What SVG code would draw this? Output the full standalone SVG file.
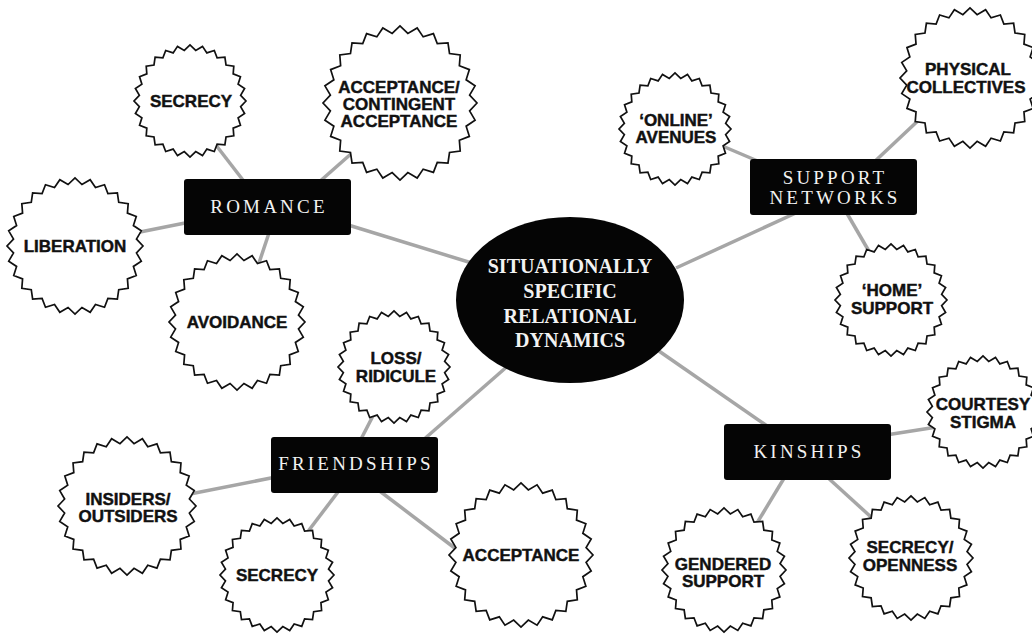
<svg xmlns="http://www.w3.org/2000/svg" xmlns:xlink="http://www.w3.org/1999/xlink" width="1032" height="634" viewBox="0 0 1032 634">
<style>
.bg{fill:#fff}
.conn line{stroke:#a6a6a6;stroke-width:3.5;stroke-linecap:butt}
.burst{fill:#fff;stroke:#111;stroke-width:1.7;stroke-linejoin:miter}
.lbl{font-family:"Liberation Sans",Arial,sans-serif;font-weight:bold;font-size:17px;fill:#111;stroke:#111;stroke-width:0.45px;text-anchor:middle}
.box{fill:#050505}
.btxt{font-family:"Liberation Serif","Times New Roman",serif;font-size:19px;fill:#f2f2f2;text-anchor:middle;letter-spacing:3.2px}
.ctxt{font-family:"Liberation Serif","Times New Roman",serif;font-weight:bold;font-size:20px;fill:#f2f2f2;text-anchor:middle}
</style>
<defs>
<polygon id="b" class="burst" vector-effect="non-scaling-stroke" points="1,0 .904,.102 .975,.223 .859,.301 .901,.434 .771,.484 .782,.623 .643,.643 .623,.782 .484,.771 .434,.901 .301,.859 .223,.975 .102,.904 0,1 -.102,.904 -.223,.975 -.301,.859 -.434,.901 -.484,.771 -.623,.782 -.643,.643 -.782,.623 -.771,.484 -.901,.434 -.859,.301 -.975,.223 -.904,.102 -1,0 -.904,-.102 -.975,-.223 -.859,-.301 -.901,-.434 -.771,-.484 -.782,-.623 -.643,-.643 -.623,-.782 -.484,-.771 -.434,-.901 -.301,-.859 -.223,-.975 -.102,-.904 0,-1 .102,-.904 .223,-.975 .301,-.859 .434,-.901 .484,-.771 .623,-.782 .643,-.643 .782,-.623 .771,-.484 .901,-.434 .859,-.301 .975,-.223 .904,-.102"/>
</defs>
<rect class="bg" width="1032" height="634"/>
<g id="connectors" class="conn">
<line x1="212" y1="140" x2="246" y2="184"/>
<line x1="352" y1="153" x2="318" y2="183"/>
<line x1="135" y1="233" x2="190" y2="222"/>
<line x1="270" y1="230" x2="258" y2="266"/>
<line x1="345" y1="224" x2="475" y2="264"/>
<line x1="720" y1="145" x2="760" y2="162"/>
<line x1="872" y1="164" x2="922" y2="117"/>
<line x1="798" y1="212" x2="676" y2="268"/>
<line x1="845" y1="210" x2="870" y2="253"/>
<line x1="656" y1="349" x2="770" y2="428"/>
<line x1="886" y1="435" x2="937" y2="427"/>
<line x1="786" y1="475" x2="754" y2="528"/>
<line x1="826" y1="476" x2="871" y2="517"/>
<line x1="510" y1="364" x2="422" y2="441"/>
<line x1="375" y1="412" x2="360" y2="441"/>
<line x1="190" y1="494" x2="276" y2="477"/>
<line x1="341" y1="488" x2="303" y2="538"/>
<line x1="377" y1="489" x2="456" y2="549"/>
</g>
<g id="center">
<ellipse cx="570" cy="300" rx="114" ry="83" fill="#050505"/>
<text class="ctxt" x="570" y="273">SITUATIONALLY</text>
<text class="ctxt" x="570" y="298">SPECIFIC</text>
<text class="ctxt" x="570" y="323">RELATIONAL</text>
<text class="ctxt" x="570" y="347">DYNAMICS</text>
</g>
<g id="romance">
<rect class="box" x="184" y="179" width="167" height="56" rx="3"/>
<text class="btxt" x="269" y="213">ROMANCE</text>
</g>
<g id="support-networks">
<rect class="box" x="750" y="159" width="167" height="56" rx="3"/>
<text class="btxt" x="835" y="184">SUPPORT</text>
<text class="btxt" x="835" y="204">NETWORKS</text>
</g>
<g id="friendships">
<rect class="box" x="271" y="437" width="167" height="56" rx="3"/>
<text class="btxt" x="356" y="470">FRIENDSHIPS</text>
</g>
<g id="kinships">
<rect class="box" x="724" y="424" width="167" height="56" rx="3"/>
<text class="btxt" x="809" y="458">KINSHIPS</text>
</g>
<g id="romance-secrecy">
<use xlink:href="#b" href="#b" transform="translate(190 101) scale(56)"/>
<text class="lbl" x="191" y="107">SECRECY</text>
</g>
<g id="romance-acceptance">
<use xlink:href="#b" href="#b" transform="translate(400 103) scale(77)"/>
<text class="lbl" x="399" y="93">ACCEPTANCE/</text>
<text class="lbl" x="399" y="110">CONTINGENT</text>
<text class="lbl" x="399" y="127">ACCEPTANCE</text>
</g>
<g id="romance-liberation">
<use xlink:href="#b" href="#b" transform="translate(75 246) scale(68)"/>
<text class="lbl" x="75" y="252">LIBERATION</text>
</g>
<g id="romance-avoidance">
<use xlink:href="#b" href="#b" transform="translate(237 322) scale(68)"/>
<text class="lbl" x="237" y="328">AVOIDANCE</text>
</g>
<g id="online-avenues">
<use xlink:href="#b" href="#b" transform="translate(675 129) scale(56)"/>
<text class="lbl" x="676" y="126">‘ONLINE’</text>
<text class="lbl" x="676" y="143">AVENUES</text>
</g>
<g id="physical-collectives">
<use xlink:href="#b" href="#b" transform="translate(970 78) scale(70)"/>
<text class="lbl" x="968" y="75">PHYSICAL</text>
<text class="lbl" x="966" y="93">COLLECTIVES</text>
</g>
<g id="home-support">
<use xlink:href="#b" href="#b" transform="translate(891 300) scale(56)"/>
<text class="lbl" x="892" y="296">‘HOME’</text>
<text class="lbl" x="892" y="314">SUPPORT</text>
</g>
<g id="courtesy-stigma">
<use xlink:href="#b" href="#b" transform="translate(983 412) scale(56)"/>
<text class="lbl" x="983" y="410">COURTESY</text>
<text class="lbl" x="983" y="428">STIGMA</text>
</g>
<g id="gendered-support">
<use xlink:href="#b" href="#b" transform="translate(724 570) scale(62)"/>
<text class="lbl" x="723" y="570">GENDERED</text>
<text class="lbl" x="723" y="587">SUPPORT</text>
</g>
<g id="secrecy-openness">
<use xlink:href="#b" href="#b" transform="translate(911 558) scale(62)"/>
<text class="lbl" x="910" y="553">SECRECY/</text>
<text class="lbl" x="910" y="571">OPENNESS</text>
</g>
<g id="loss-ridicule">
<use xlink:href="#b" href="#b" transform="translate(394 367) scale(56)"/>
<text class="lbl" x="396" y="364">LOSS/</text>
<text class="lbl" x="396" y="382">RIDICULE</text>
</g>
<g id="insiders-outsiders">
<use xlink:href="#b" href="#b" transform="translate(127 506) scale(69)"/>
<text class="lbl" x="128" y="505">INSIDERS/</text>
<text class="lbl" x="128" y="522">OUTSIDERS</text>
</g>
<g id="friendships-secrecy">
<use xlink:href="#b" href="#b" transform="translate(277 575) scale(57)"/>
<text class="lbl" x="277" y="581">SECRECY</text>
</g>
<g id="friendships-acceptance">
<use xlink:href="#b" href="#b" transform="translate(521 555) scale(72)"/>
<text class="lbl" x="521" y="561">ACCEPTANCE</text>
</g>
</svg>
